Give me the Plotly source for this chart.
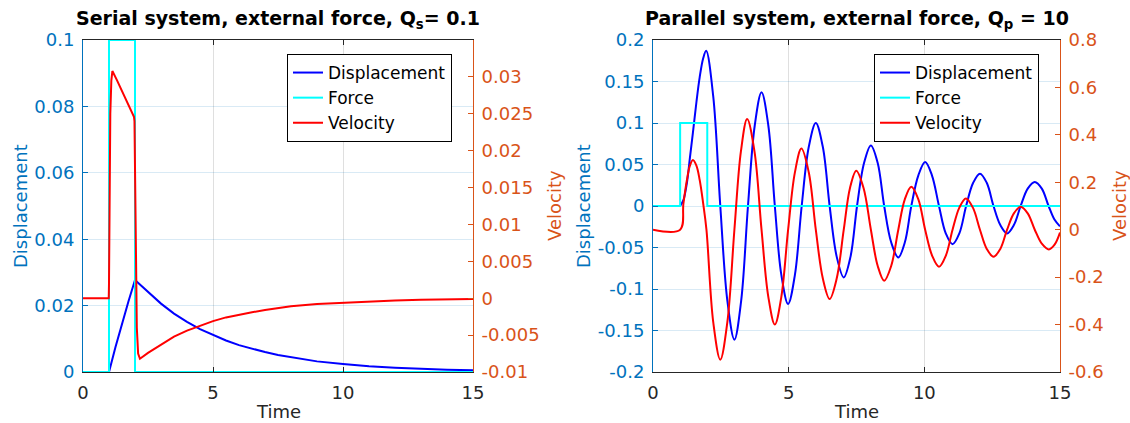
import plotly.graph_objects as go

# ---------------- data: serial system (left) ----------------
t_force = [0, 1, 1, 2, 2, 15]
force = [0, 0, 0.1, 0.1, 0, 0]

t_disp_s = [0, 1.0, 1.25, 1.5, 1.75, 2.0, 2.5, 3.0, 3.5, 4.0, 4.5, 5.0, 5.5, 6.0, 6.5, 7.0,
            7.5, 8.0, 9.0, 10.0, 11.0, 12.0, 13.0, 14.0, 15.0]
disp_s = [0, 0, 0.0075, 0.0146, 0.0213, 0.0277, 0.0240, 0.0206, 0.0176, 0.0151, 0.0129,
          0.0111, 0.0095, 0.0081, 0.0070, 0.0060, 0.0051, 0.0044, 0.0032, 0.0024, 0.0017,
          0.0013, 0.0009, 0.0007, 0.0005]

t_vel_s = [0, 0.99, 1.0, 1.02, 1.05, 1.09, 1.13, 1.3, 1.5, 1.75, 1.96, 1.98, 2.0, 2.03,
           2.07, 2.12, 2.19, 2.5, 3.0, 3.5, 4.0, 4.5, 5.0, 5.5, 6.0, 6.5, 7.0, 7.5, 8.0,
           9.0, 10.0, 11.0, 12.0, 13.0, 14.0, 15.0]
vel_s = [0, 0, 0.002, 0.015, 0.025, 0.0295, 0.0308, 0.0296, 0.0281, 0.0263, 0.0246, 0.0240,
         0.018, 0.005, -0.004, -0.0075, -0.0082, -0.0074, -0.0063, -0.0052, -0.0044, -0.0037,
         -0.0031, -0.0026, -0.0022, -0.0019, -0.0016, -0.0013, -0.0011, -0.0008, -0.0006,
         -0.0004, -0.0003, -0.0002, -0.00015, -0.0001]

# ---------------- data: parallel system (right) ----------------
t_disp_p = [1.0, 1.12, 1.25, 1.36, 1.47, 1.6, 1.72, 1.85, 1.96, 2.22, 2.48, 2.74, 3.0,
            3.25, 3.5, 3.75, 4.0, 4.25, 4.49, 4.73, 4.98, 5.23, 5.48, 5.74, 6.0, 6.26, 6.51,
            6.77, 7.03, 7.28, 7.52, 7.78, 8.03, 8.28, 8.52, 8.78, 9.04, 9.28, 9.52, 9.78,
            10.03, 10.28, 10.54, 10.79, 11.04, 11.29, 11.54, 11.8, 12.05, 12.3, 12.55, 12.8,
            13.05, 13.3, 13.55, 13.81, 14.07, 14.33, 14.58, 14.79, 15.0]
disp_p = [0, 0.007, 0.028, 0.058, 0.088, 0.125, 0.155, 0.178, 0.187, 0.132, 0.0, -0.114,
          -0.161, -0.114, 0.0, 0.097, 0.137, 0.097, 0.0, -0.083, -0.118, -0.083, 0.0, 0.071,
          0.100, 0.071, 0.0, -0.061, -0.086, -0.061, 0.0, 0.052, 0.073, 0.052, 0.0, -0.044,
          -0.062, -0.044, 0.0, 0.037, 0.053, 0.037, 0.0, -0.033, -0.046, -0.033, 0.0, 0.028,
          0.039, 0.028, 0.0, -0.023, -0.033, -0.023, 0.0, 0.021, 0.029, 0.021, 0.0, -0.016,
          -0.0245]

t_vel_p = [0, 1.0, 1.12, 1.25, 1.36, 1.47, 1.6, 1.72, 1.85, 1.97, 2.22, 2.48, 2.74, 3.0,
           3.24, 3.47, 3.74, 4.0, 4.25, 4.49, 4.73, 4.98, 5.23, 5.47, 5.74, 6.0, 6.26, 6.51,
           6.77, 7.03, 7.26, 7.49, 7.76, 8.03, 8.28, 8.52, 8.78, 9.04, 9.28, 9.52, 9.78,
           10.03, 10.29, 10.54, 10.79, 11.04, 11.29, 11.53, 11.79, 12.05, 12.3, 12.55, 12.8,
           13.05, 13.3, 13.55, 13.81, 14.07, 14.33, 14.59, 14.8, 15.0]
vel_p = [0, 0, 0.11, 0.21, 0.27, 0.294, 0.27, 0.21, 0.11, 0.0, -0.39, -0.548, -0.39, 0.0,
         0.33, 0.467, 0.33, 0.0, -0.283, -0.40, -0.283, 0.0, 0.242, 0.342, 0.242, 0.0,
         -0.206, -0.292, -0.206, 0.0, 0.176, 0.249, 0.176, 0.0, -0.152, -0.215, -0.152, 0.0,
         0.128, 0.181, 0.128, 0.0, -0.110, -0.156, -0.110, 0.0, 0.093, 0.132, 0.093, 0.0,
         -0.081, -0.114, -0.081, 0.0, 0.069, 0.097, 0.069, 0.0, -0.059, -0.083, -0.063, -0.012]

x_ticks = [0, 5, 10, 15]
ds_ticks = [0, 0.02, 0.04, 0.06, 0.08, 0.1]
ds_labels = ["0", "0.02", "0.04", "0.06", "0.08", "0.1"]
vs_ticks = [-0.01, -0.005, 0, 0.005, 0.01, 0.015, 0.02, 0.025, 0.03]
vs_labels = ["-0.01", "-0.005", "0", "0.005", "0.01", "0.015", "0.02", "0.025", "0.03"]
dp_ticks = [-0.2, -0.15, -0.1, -0.05, 0, 0.05, 0.1, 0.15, 0.2]
dp_labels = ["-0.2", "-0.15", "-0.1", "-0.05", "0", "0.05", "0.1", "0.15", "0.2"]
vp_ticks = [-0.6, -0.4, -0.2, 0, 0.2, 0.4, 0.6, 0.8]
vp_labels = ["-0.6", "-0.4", "-0.2", "0", "0.2", "0.4", "0.6", "0.8"]

BLUE_AX = "#0072BD"
ORANGE_AX = "#D95319"
DARK = "#262626"
FONT = "DejaVu Sans"
FS = 18

fig = go.Figure()

# left subplot
fig.add_trace(go.Scatter(x=t_disp_s, y=disp_s, name="Displacement", mode="lines",
                         line=dict(color="#0000FF", width=2), xaxis="x", yaxis="y",
                         legend="legend"))
fig.add_trace(go.Scatter(x=t_force, y=force, name="Force", mode="lines",
                         line=dict(color="#00FFFF", width=2), xaxis="x", yaxis="y",
                         legend="legend"))
fig.add_trace(go.Scatter(x=t_vel_s, y=vel_s, name="Velocity", mode="lines",
                         line=dict(color="#FF0000", width=2), xaxis="x", yaxis="y2",
                         legend="legend"))
# right subplot
fig.add_trace(go.Scatter(x=t_disp_p, y=disp_p, name="Displacement", mode="lines",
                         line=dict(color="#0000FF", width=2, shape="spline"),
                         xaxis="x2", yaxis="y3", legend="legend2"))
fig.add_trace(go.Scatter(x=t_force, y=force, name="Force", mode="lines",
                         line=dict(color="#00FFFF", width=2), xaxis="x2", yaxis="y3",
                         legend="legend2"))
fig.add_trace(go.Scatter(x=t_vel_p, y=vel_p, name="Velocity", mode="lines",
                         line=dict(color="#FF0000", width=2, shape="spline"),
                         xaxis="x2", yaxis="y4", legend="legend2"))

YD = [1 - 372 / 423, 1 - 40 / 423]
XD1 = [83 / 1130, 473 / 1130]
XD2 = [653 / 1130, 1060 / 1130]

xgrid = "rgba(38,38,38,0.15)"
ygrid = "rgba(0,114,189,0.15)"


def xaxis(domain, anchor):
    return dict(domain=domain, anchor=anchor, range=[0, 15], tickvals=x_ticks,
                ticktext=[str(v) for v in x_ticks], ticks="inside", ticklen=5,
                tickcolor=DARK, showline=True, linecolor=DARK, linewidth=1,
                mirror="ticks", showgrid=True, gridcolor=xgrid, zeroline=False,
                tickfont=dict(family=FONT, size=FS, color=DARK), ticklabelstandoff=4)


def yleft(anchor, rng, tv, tt):
    return dict(domain=YD, anchor=anchor, range=rng, tickvals=tv, ticktext=tt,
                ticks="inside", ticklen=5, tickcolor=BLUE_AX, showline=True,
                linecolor=BLUE_AX, linewidth=1, showgrid=True, gridcolor=ygrid,
                zeroline=False, tickfont=dict(family=FONT, size=FS, color=BLUE_AX),
                ticklabelstandoff=4)


def yright(anchor, overlay, rng, tv, tt):
    return dict(anchor=anchor, overlaying=overlay, side="right", range=rng, tickvals=tv,
                ticktext=tt, ticks="inside", ticklen=5, tickcolor=ORANGE_AX, showline=True,
                linecolor=ORANGE_AX, linewidth=1, showgrid=False, zeroline=False,
                tickfont=dict(family=FONT, size=FS, color=ORANGE_AX), ticklabelstandoff=4)


legend_common = dict(bgcolor="white", bordercolor="black", borderwidth=1,
                     font=dict(family=FONT, size=17, color="black"),
                     xanchor="left", yanchor="top", tracegroupgap=0)

fig.update_layout(
    width=1130, height=423, margin=dict(l=0, r=0, t=0, b=0, pad=0, autoexpand=False),
    paper_bgcolor="white", plot_bgcolor="white",
    font=dict(family=FONT, size=FS, color=DARK),
    xaxis=xaxis(XD1, "y"),
    yaxis=yleft("x", [0, 0.1], ds_ticks, ds_labels),
    yaxis2=yright("x", "y", [-0.01, 0.035], vs_ticks, vs_labels),
    xaxis2=xaxis(XD2, "y3"),
    yaxis3=yleft("x2", [-0.2, 0.2], dp_ticks, dp_labels),
    yaxis4=yright("x2", "y3", [-0.6, 0.8], vp_ticks, vp_labels),
    legend=dict(x=287 / 1130, y=1 - 54 / 423, **legend_common),
    legend2=dict(x=874 / 1130, y=1 - 54 / 423, **legend_common),
    showlegend=True,
)


def px_x(v):
    return v / 1130


def px_y(v):
    return 1 - v / 423


annos = [
    dict(text="<b>Serial system, external force, Q<sub>s</sub>= 0.1</b>", x=px_x(278),
         y=px_y(20), font=dict(size=19, color="black")),
    dict(text="<b>Parallel system, external force, Q<sub>p</sub> = 10</b>", x=px_x(856.5),
         y=px_y(20), font=dict(size=19, color="black")),
    dict(text="Time", x=px_x(278), y=px_y(411), font=dict(size=FS, color=DARK)),
    dict(text="Time", x=px_x(856.5), y=px_y(411), font=dict(size=FS, color=DARK)),
    dict(text="Displacement", x=px_x(20), y=px_y(206), textangle=-90,
         font=dict(size=FS, color=BLUE_AX)),
    dict(text="Velocity", x=px_x(554), y=px_y(206), textangle=-90,
         font=dict(size=FS, color=ORANGE_AX)),
    dict(text="Displacement", x=px_x(583), y=px_y(206), textangle=-90,
         font=dict(size=FS, color=BLUE_AX)),
    dict(text="Velocity", x=px_x(1119), y=px_y(206), textangle=-90,
         font=dict(size=FS, color=ORANGE_AX)),
]
for a in annos:
    fig.add_annotation(xref="paper", yref="paper", showarrow=False, xanchor="center",
                       yanchor="middle", **a)

fig.write_html("out.html")
